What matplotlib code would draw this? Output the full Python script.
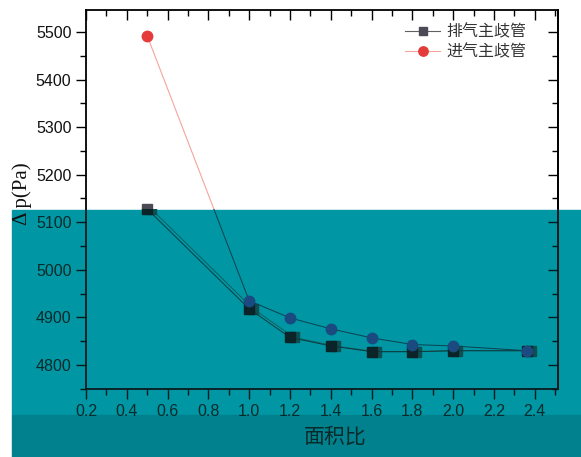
import matplotlib
matplotlib.use("Agg")
import matplotlib.pyplot as plt
import matplotlib.transforms as mtransforms
from matplotlib.patches import Rectangle
from matplotlib.ticker import MultipleLocator, FixedLocator, FormatStrFormatter

plt.rcParams['font.family'] = ['Liberation Sans', 'Noto Sans CJK SC']

# 数据
ratio = [0.5, 1.0, 1.2, 1.4, 1.6, 1.8, 2.0, 2.36]
exhaust = [5128, 4918, 4858, 4840, 4828, 4828, 4830, 4830]   # 排气主歧管
intake = [5492, 4935, 4899, 4876, 4857, 4843, 4840, 4830]    # 进气主歧管
x_ticks = [0.2, 0.4, 0.6, 0.8, 1.0, 1.2, 1.4, 1.6, 1.8, 2.0, 2.2, 2.4]

W, H = 581, 457
fig = plt.figure(figsize=(5.81, 4.57), dpi=100)

def fx(px):
    return px / W

def fy(py):
    return 1 - py / H

left, right, top, bottom = 86, 558, 9.5, 389
teal_top, band_top = 209.5, 415
lab_size = 11.5

# 主图
ax = fig.add_axes([fx(left), fy(bottom), fx(right - left), (bottom - top) / H])
ax.set_zorder(0)
ax.set_xlim(0.2, 2.514)
ax.set_ylim(4749.5, 5547.3)
ax.plot(ratio, exhaust, color='#606060', lw=0.8, marker='s', ms=6.5,
        mfc='#4b4b55', mec='#4b4b55', label='排气主歧管')
ax.plot(ratio, intake, color='#f5a49c', lw=0.8, marker='o', ms=7.5,
        mfc='#e53a3a', mec='#e53a3a', label='进气主歧管')

for s in ax.spines.values():
    s.set_linewidth(1.3)
ax.xaxis.set_major_locator(MultipleLocator(0.2))
ax.xaxis.set_minor_locator(MultipleLocator(0.1))
ax.yaxis.set_major_locator(MultipleLocator(100))
ax.yaxis.set_minor_locator(MultipleLocator(50))
ax.tick_params(axis='y', which='both', direction='out', right=False, labelsize=lab_size,
               width=1.0, labelcolor='#111111')
ax.tick_params(axis='y', which='major', length=7)
ax.tick_params(axis='y', which='minor', length=4)
ax.tick_params(axis='x', which='both', bottom=False, labelbottom=False,
               top=True, direction='in', width=1.0)
ax.tick_params(axis='x', which='major', length=7)
ax.tick_params(axis='x', which='minor', length=4)
sec = ax.secondary_yaxis('right')
sec.yaxis.set_major_locator(MultipleLocator(100))
sec.yaxis.set_minor_locator(MultipleLocator(50))
sec.tick_params(axis='y', which='both', direction='in', labelright=False, width=1.0)
sec.tick_params(axis='y', which='major', length=7)
sec.tick_params(axis='y', which='minor', length=4)
sec.spines['right'].set_linewidth(1.3)

ax.legend(loc='upper left', bbox_to_anchor=(fx(405), fy(24)), bbox_transform=fig.transFigure,
          frameon=False, fontsize=11.5, handlelength=2.2, handletextpad=0.4,
          labelspacing=0.3, borderpad=0, borderaxespad=0, labelcolor='#333333',
          markerscale=0.9)

# 青色遮挡区域
fig.patches.append(Rectangle((fx(12), fy(band_top)), 1 - fx(12), (band_top - teal_top) / H,
                             transform=fig.transFigure, color='#0096a3', zorder=1))
fig.patches.append(Rectangle((fx(12), 0), 1 - fx(12), (H - band_top) / H,
                             transform=fig.transFigure, color='#00818d', zorder=1))

# 遮挡区域内的图
ax2 = fig.add_axes([fx(left), fy(bottom), fx(right - left), (bottom - teal_top) / H])
ax2.set_zorder(2)
ax2.patch.set_alpha(0)
ax2.set_xlim(0.2, 2.514)
ax2.set_ylim(4749.5, 5126.9)
ghost = mtransforms.offset_copy(ax2.transData, fig=fig, x=4, y=0, units='dots')
ax2.plot(ratio, exhaust, color='#116060', lw=0.7, marker='s', ms=6.5,
         mfc='#0f4f52', mec='#0f4f52', transform=ghost)
ax2.plot(ratio, exhaust, color='#0d3b40', lw=0.7, marker='s', ms=6.5,
         mfc='#0a2428', mec='#0a2428')
ax2.plot(ratio, intake, color='#0d4050', lw=0.7, marker='o', ms=7.5,
         mfc='#1b4a80', mec='#1b4a80')
ax2.spines['top'].set_visible(False)
for s in ['left', 'right', 'bottom']:
    ax2.spines[s].set_linewidth(1.3)
    ax2.spines[s].set_color('#0a1a1e')
ax2.xaxis.set_major_locator(FixedLocator(x_ticks))
ax2.xaxis.set_minor_locator(MultipleLocator(0.1))
ax2.xaxis.set_major_formatter(FormatStrFormatter('%.1f'))
ax2.yaxis.set_major_locator(FixedLocator([4800, 4900, 5000, 5100]))
ax2.yaxis.set_minor_locator(MultipleLocator(50))
ax2.tick_params(axis='both', which='both', direction='out', labelsize=lab_size,
                width=1.0, colors='#0a1a1e', labelcolor='#0a2a2a')
ax2.tick_params(axis='both', which='major', length=7)
ax2.tick_params(axis='both', which='minor', length=4)
sec2 = ax2.secondary_yaxis('right')
sec2.yaxis.set_major_locator(MultipleLocator(100))
sec2.yaxis.set_minor_locator(MultipleLocator(50))
sec2.tick_params(axis='y', which='both', direction='in', labelright=False, width=1.0, colors='#0a1a1e')
sec2.tick_params(axis='y', which='major', length=7)
sec2.tick_params(axis='y', which='minor', length=4)
sec2.spines['right'].set_linewidth(1.3)
sec2.spines['right'].set_color('#0a1a1e')

# 坐标轴标题
fig.text(fx(22), fy(194), 'Δ p(Pa)', rotation=90, family='Liberation Serif', fontsize=15,
         ha='center', va='center', color='#111111', zorder=3)
fig.text(fx(335), fy(437), '面积比', family='Noto Sans CJK SC', fontsize=15,
         ha='center', va='center', color='#0a2a2a', zorder=3)

fig.savefig('out.png', dpi=100)
